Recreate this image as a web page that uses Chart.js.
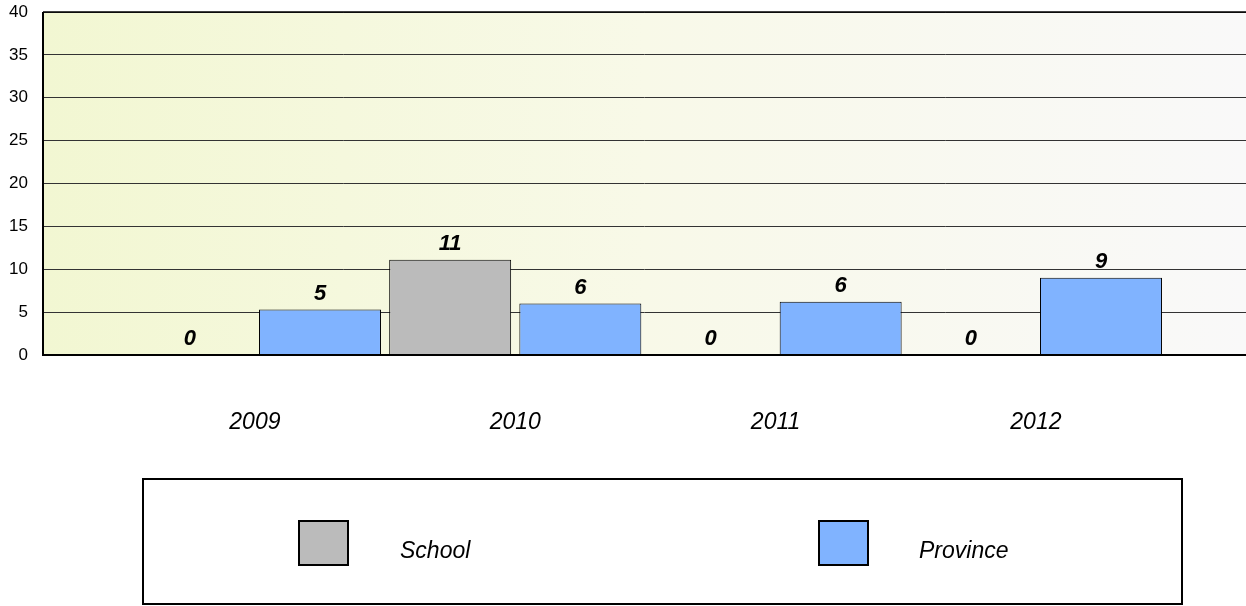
<!DOCTYPE html>
<html>
<head>
<meta charset="utf-8">
<script src="https://cdn.jsdelivr.net/npm/chart.js@4.4.1/dist/chart.umd.min.js"></script>
<style>
  body { margin: 0; background: #fff; }
  #wrap { width: 1246px; height: 606px; }
</style>
</head>
<body>
<div id="wrap"><canvas id="myChart" width="1246" height="606"></canvas></div>
<script>
const years = ["2009", "2010", "2011", "2012"];
const school = [0, 11.1, 0, 0];
const province = [5.3, 6.0, 6.2, 9.0];
const yTicks = [0, 5, 10, 15, 20, 25, 30, 35, 40];

const ctx = document.getElementById("myChart");
const FONT = "'Liberation Sans', Arial, sans-serif";

// plot background + border lines
const backdrop = {
  id: "backdrop",
  beforeDraw(chart) {
    const { ctx, chartArea: a } = chart;
    const g = ctx.createLinearGradient(a.left, 0, a.right, 0);
    g.addColorStop(0, "#f2f7d2");
    g.addColorStop(0.5, "#f8f9e8");
    g.addColorStop(1, "#f9f9f9");
    ctx.save();
    ctx.fillStyle = g;
    ctx.fillRect(a.left, a.top, a.right - a.left, a.bottom - a.top);
    ctx.restore();
  },
  afterDatasetsDraw(chart) {
    const { ctx, chartArea: a } = chart;
    ctx.save();
    ctx.strokeStyle = "#000";
    ctx.lineWidth = 2;
    ctx.beginPath();
    ctx.moveTo(a.left, a.top);
    ctx.lineTo(a.left, a.bottom);
    ctx.lineTo(a.right, a.bottom);
    ctx.stroke();
    ctx.lineWidth = 1.5;
    ctx.beginPath();
    ctx.moveTo(a.left, a.top);
    ctx.lineTo(a.right, a.top);
    ctx.stroke();
    ctx.restore();
  },
};

// value labels above bars
const valueLabels = {
  id: "valueLabels",
  afterDatasetsDraw(chart) {
    const { ctx } = chart;
    ctx.save();
    ctx.font = "italic bold 22px " + FONT;
    ctx.fillStyle = "#000";
    ctx.textAlign = "center";
    ctx.textBaseline = "alphabetic";
    chart.data.datasets.forEach((ds, di) => {
      chart.getDatasetMeta(di).data.forEach((bar, i) => {
        ctx.fillText(String(Math.round(ds.data[i].y)), bar.x, bar.y - 10);
      });
    });
    ctx.restore();
  },
};

// boxed legend under the chart
const boxLegend = {
  id: "boxLegend",
  afterDraw(chart) {
    const { ctx } = chart;
    ctx.save();
    ctx.strokeStyle = "#000";
    ctx.lineWidth = 2;
    ctx.strokeRect(143, 479, 1039, 125);
    const items = [
      { x: 299, tx: 400 },
      { x: 819, tx: 919 },
    ];
    chart.data.datasets.forEach((ds, i) => {
      const it = items[i];
      ctx.fillStyle = ds.backgroundColor;
      ctx.fillRect(it.x, 521, 49, 44);
      ctx.lineWidth = 2;
      ctx.strokeRect(it.x, 521, 49, 44);
      ctx.fillStyle = "#000";
      ctx.font = "italic 23px " + FONT;
      ctx.textAlign = "left";
      ctx.textBaseline = "alphabetic";
      ctx.fillText(ds.label, it.tx, 558);
    });
    ctx.restore();
  },
};

const data = {
  datasets: [
    {
      label: "School",
      backgroundColor: "#bbbbbb",
      borderColor: "#000",
      borderWidth: 1,
      data: school.map((v, i) => ({ x: i, y: v })),
    },
    {
      label: "Province",
      backgroundColor: "#80b3ff",
      borderColor: "#000",
      borderWidth: 1,
      data: province.map((v, i) => ({ x: i, y: v })),
    },
  ],
};

const myChart = new Chart(ctx, {
  type: "bar",
  data,
  plugins: [backdrop, valueLabels, boxLegend],
  options: {
    responsive: false,
    animation: false,
    devicePixelRatio: 1,
    categoryPercentage: 1.0,
    barPercentage: 0.937,
    layout: { padding: { top: 12, right: 0, left: 0, bottom: 0 } },
    plugins: {
      legend: { display: false },
      tooltip: { enabled: false },
    },
    scales: {
      x: {
        type: "linear",
        offset: false,
        min: -0.814,
        max: 3.807,
        afterBuildTicks: (s) => { s.ticks = years.map((_, i) => ({ value: i })); },
        afterFit: (s) => { s.height = 251; s.paddingLeft = 0; s.paddingRight = 0; },
        grid: { display: false, drawTicks: false },
        border: { display: false },
        ticks: {
          padding: 54,
          maxRotation: 0,
          autoSkip: false,
          color: "#000",
          font: { family: FONT, size: 23, style: "italic" },
          callback: (v) => years[v],
        },
      },
      y: {
        min: 0,
        max: 40,
        afterBuildTicks: (s) => { s.ticks = yTicks.map((v) => ({ value: v })); },
        afterFit: (s) => { s.width = 43; s.paddingTop = 0; s.paddingBottom = 0; },
        grid: { color: "#333", lineWidth: 1, drawTicks: false },
        border: { display: false },
        ticks: {
          padding: 15,
          color: "#000",
          font: { family: FONT, size: 17 },
        },
      },
    },
  },
});
</script>
</body>
</html>
